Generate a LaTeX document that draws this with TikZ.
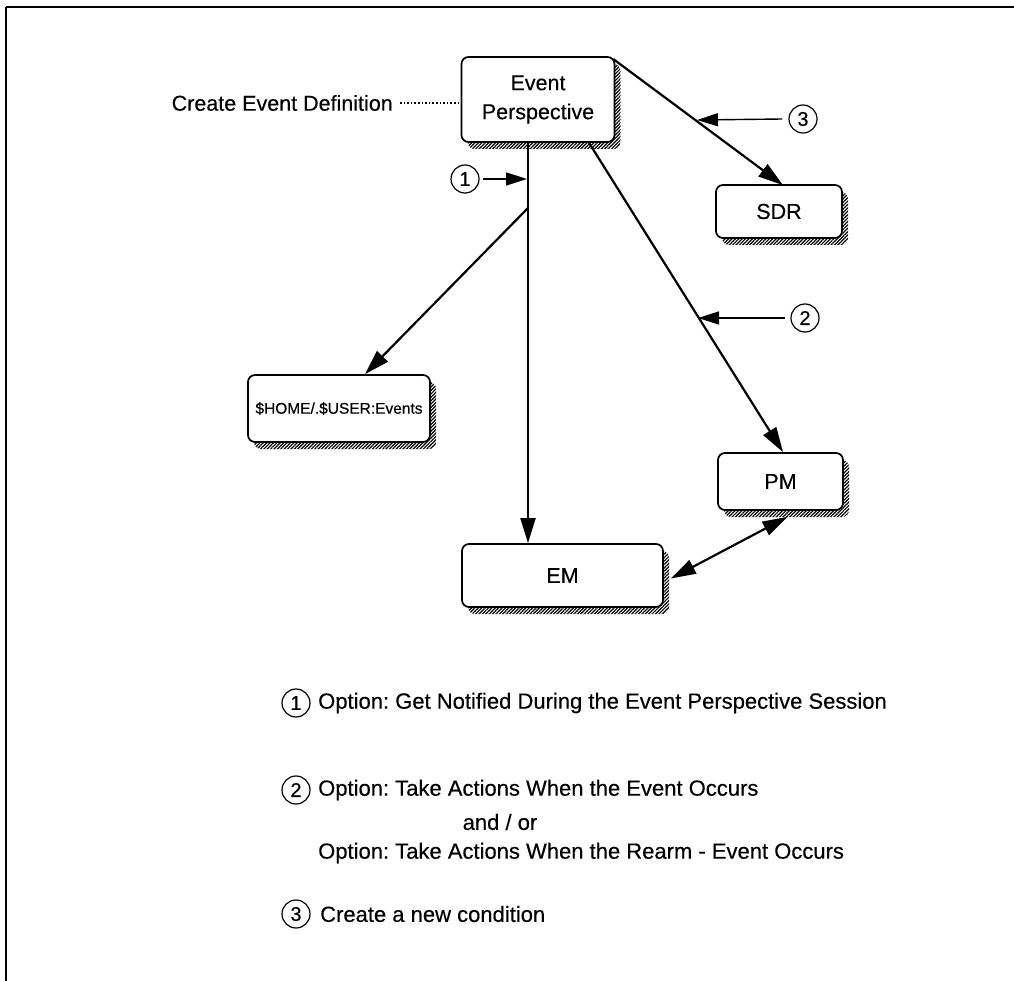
\documentclass[tikz,border=0pt]{standalone}
\usepackage{fontspec}
\setmainfont{Liberation Sans}[FakeBold=0.35]
\usetikzlibrary{arrows.meta,patterns.meta,shadows,calc}
\frenchspacing

\tikzset{
  box/.style={draw, line width=1.7pt, rounded corners=7pt, fill=white,
    align=center, font=\fontsize{21.5}{29}\selectfont, inner sep=0pt,
    drop shadow={shadow xshift=6pt, shadow yshift=-7pt, opacity=1, fill=none,
      pattern={Lines[angle=45,distance=2.4pt,line width=1.2pt]}}},
  num/.style={draw, circle, line width=1.2pt, minimum size=28pt, inner sep=0pt,
    font=\fontsize{20}{20}\selectfont},
  flow/.style={line width=2.2pt, -{Triangle[length=25pt,width=15pt]}},
  pointer/.style={line width=1.4pt, -{Triangle[length=21pt,width=13pt]}},
  legend/.style={anchor=west, inner sep=0pt, font=\fontsize{22}{30}\selectfont},
}

\begin{document}
\begin{tikzpicture}[x=1pt, y=-1pt]
  \useasboundingbox (0,0) rectangle (1014,981);

  % outer frame (top and left edges)
  \draw[line width=2.8pt] (6,7) -- (1014,7);
  \draw[line width=1.6pt] (6,7) -- (6,981);

  % boxes
  \node[box, minimum width=153pt, minimum height=85pt] (EP) at (538,99.5) {Event\\Perspective};
  \node[box, minimum width=126pt, minimum height=53pt] (SDR) at (779,211.5) {SDR};
  \node[box, minimum width=182pt, minimum height=67pt, font=\fontsize{15.5}{20}\selectfont] (HOME) at (339,408.5) {\$HOME/.\$USER:Events};
  \node[box, minimum width=125pt, minimum height=57pt] (PM) at (780.5,481.5) {PM};
  \node[box, minimum width=201pt, minimum height=63pt] (EM) at (562.5,575.5) {EM};

  % caption of the event perspective
  \node[anchor=east, inner sep=0pt, font=\fontsize{21.5}{24}\selectfont] (CED) at (393,103) {Create Event Definition};
  \draw[line width=1.6pt, dotted] (CED.east) ++(7,0) -- (EP.west |- CED.east);

  % connectors
  \coordinate (tap) at (528,142);
  \coordinate (branch) at (528,208);
  \draw[flow, line width=2pt] (EP.south -| tap) -- (EM.north -| tap);
  \draw[flow] (branch) -- ($(HOME.north)+(26,0)$);
  \draw[flow] ($(EP.north east)+(-2,3)$) -- ($(SDR.north)+(4,1)$);
  \draw[flow] ($(EP.south)+(51,0)$) -- ($(PM.north)+(2.5,0)$);
  \draw[line width=2.2pt, {Triangle[length=25pt,width=15pt]}-{Triangle[length=25pt,width=15pt]}]
    ($(EM.east)+(7,3)$) -- ($(PM.south)+(7,6)$);

  % numbered pointers
  \node[num] (n1) at (465,179) {1};
  \node[num] (n2) at (805,318) {2};
  \node[num] (n3) at (803,119) {3};
  \coordinate (p1) at (527,179);
  \coordinate (p2) at (698,318);
  \coordinate (p3) at (697,120);
  \draw[pointer] (n1.east) ++(3,0) -- (p1);
  \draw[pointer] (n2.west) ++(-5,0) -- (p2);
  \draw[pointer] (n3.west) ++(-6,0) -- (p3);

  % legend
  \node[num] (l1) at (296,703) {1};
  \node[legend] (t1) at (318,703) {Option: Get Notified During the Event Perspective Session};
  \node[num] (l2) at (296,790) {2};
  \node[legend] (t2a) at (318,790) {Option: Take Actions When the Event Occurs};
  \node[inner sep=0pt, font=\fontsize{22}{30}\selectfont] (t2b) at (500,822) {and / or};
  \node[legend] (t2c) at (318,853) {Option: Take Actions When the Rearm - Event Occurs};
  \node[num] (l3) at (296,914) {3};
  \node[legend] (t3) at (320,914) {Create a new condition};
\end{tikzpicture}
\end{document}
